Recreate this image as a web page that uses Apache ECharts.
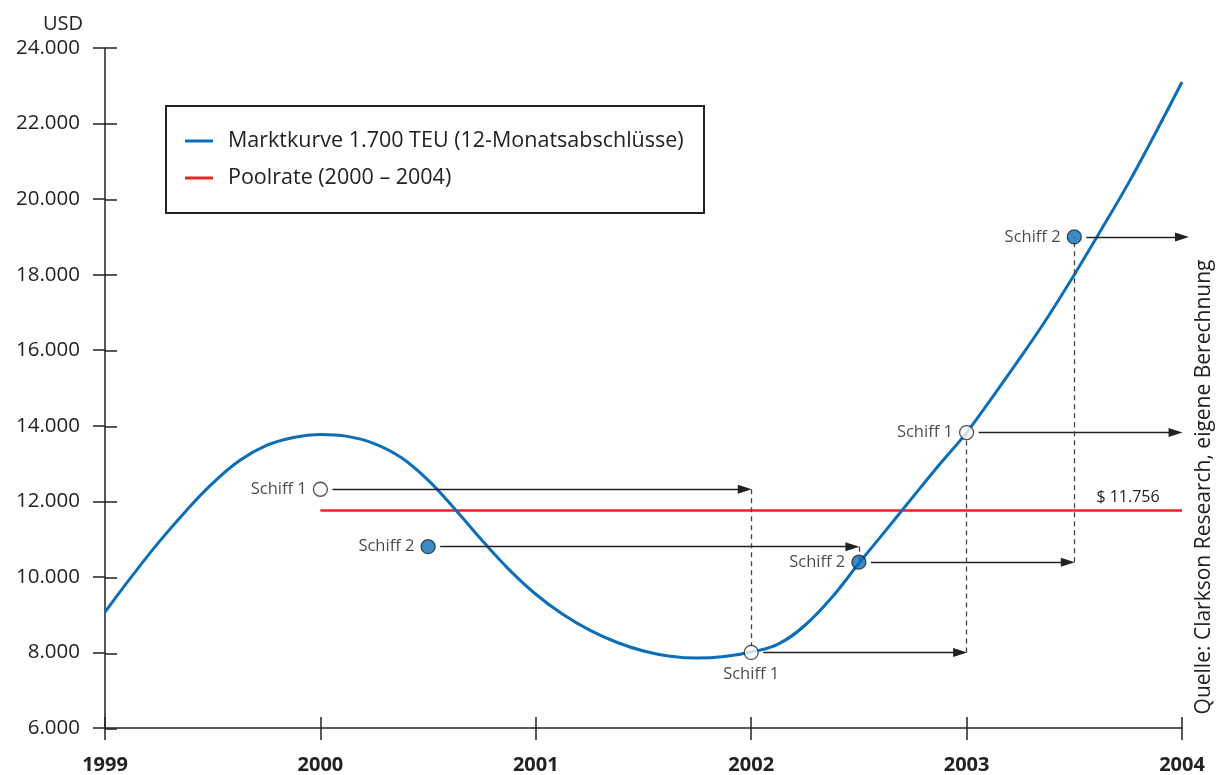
<!DOCTYPE html>
<html>
<head>
<meta charset="utf-8">
<script src="https://cdn.jsdelivr.net/npm/echarts@6/dist/echarts.min.js"></script>
<style>
  html, body { margin: 0; padding: 0; background: #fff; }
  #chart { width: 1218px; height: 775px; }
</style>
</head>
<body>
<div id="chart"></div>
<script>
var marktYears = [1999, 1999.125, 1999.25, 1999.375, 1999.5, 1999.625, 1999.75, 1999.875,
                  2000, 2000.125, 2000.25, 2000.375, 2000.5, 2000.625, 2000.75, 2000.875,
                  2001, 2001.125, 2001.25, 2001.375, 2001.5, 2001.625, 2001.75, 2001.875,
                  2002, 2002.125, 2002.25, 2002.375, 2002.5, 2002.625, 2002.75, 2002.875,
                  2003, 2003.125, 2003.25, 2003.375, 2003.5, 2003.625, 2003.75, 2003.875,
                  2004];
var marktValues = [9070, 10020, 10920, 11740, 12480, 13080, 13480, 13690,
                   13770, 13720, 13530, 13160, 12560, 11790, 10970, 10200,
                   9540, 9010, 8590, 8270, 8040, 7900, 7850, 7890,
                   8010, 8220, 8720, 9460, 10360, 11230, 12110, 12980,
                   13820, 14800, 15810, 16860, 18000, 19190, 20410, 21730,
                   23100];

// Poolrate
var poolYears = [2000, 2004];
var poolValue = 11756;

// Schiffe: Punkt und Pfeilende
var schiff1Years = [2000, 2002, 2003];
var schiff1Values = [12320, 8000, 13820];
var schiff1ArrowEnd = [2002, 2003, 2004];
var schiff2Years = [2000.5, 2002.5, 2003.5];
var schiff2Values = [10800, 10390, 19000];
var schiff2ArrowEnd = [2002.5, 2003.5, 2004.02];

var xTicks = [1999, 2000, 2001, 2002, 2003, 2004];

var dark = '#222';
var font = 'Open Sans';

function pts(xs, ys) {
    var out = [];
    for (var i = 0; i < xs.length; i++) out.push([xs[i], ys[i]]);
    return out;
}

// Pfeile und gestrichelte Verbindungen
// (Pfeilspitze sitzt mittig auf dem Endpunkt, darum etwas kuerzer)
var arrows = [];
var dashes = [];
function addShip(xs, ys, ends) {
    for (var i = 0; i < xs.length; i++) {
        arrows.push([{coord: [xs[i] + 0.056, ys[i]]}, {coord: [Math.min(ends[i], 2004) - 0.03, ys[i]]}]);
        if (i < xs.length - 1) {
            dashes.push([{coord: [ends[i], ys[i]]}, {coord: [ends[i], ys[i + 1]]}]);
        }
    }
}
addShip(schiff1Years, schiff1Values, schiff1ArrowEnd);
addShip(schiff2Years, schiff2Values, schiff2ArrowEnd);
// letzter Pfeil von Schiff 2 reicht etwas ueber 2004 hinaus
arrows[arrows.length - 1][1].coord[0] = 2004;

var s1Data = pts(schiff1Years, schiff1Values).map(function (p, i) {
    var lbl = {show: true, position: 'left', distance: 6};
    if (i === 1) lbl = {show: true, position: 'bottom', distance: 6};
    return {value: p, label: lbl};
});
var s2Data = pts(schiff2Years, schiff2Values).map(function (p) {
    return {value: p, label: {show: true, position: 'left', distance: 6}};
});

var nameBlue = 'Marktkurve 1.700 TEU (12-Monatsabschlüsse)';
var nameRed = 'Poolrate (2000 – 2004)';

var tickStyle = {color: dark, width: 1.5};

var option = {
    animation: false,
    textStyle: {fontFamily: font},
    grid: [
        {left: 105, right: 36, top: 48, bottom: 46, containLabel: false},
        {left: 105, right: 36, top: 48, bottom: 46, containLabel: false}
    ],
    legend: {
        data: [nameBlue, nameRed],
        orient: 'vertical',
        left: 180,
        top: 124,
        itemWidth: 28,
        itemHeight: 3,
        itemGap: 13,
        icon: 'rect',
        textStyle: {fontSize: 21.5, color: dark, lineHeight: 24, fontFamily: font, padding: [0, 0, 0, 10]}
    },
    graphic: [
        {
            type: 'rect',
            shape: {x: 166, y: 106, width: 538, height: 107},
            style: {fill: 'none', stroke: dark, lineWidth: 2}
        },
        {
            type: 'text',
            x: 1204,
            y: 487,
            rotation: Math.PI / 2,
            style: {
                text: 'Quelle: Clarkson Research, eigene Berechnung',
                fontSize: 21,
                fontFamily: font,
                fill: dark,
                align: 'center',
                verticalAlign: 'middle'
            }
        }
    ],
    xAxis: [
        {
            type: 'value',
            gridIndex: 0,
            min: 1999,
            max: 2004,
            interval: 1,
            axisLine: {lineStyle: tickStyle},
            axisTick: {show: true, inside: false, length: 12, lineStyle: tickStyle},
            axisLabel: {
                margin: 27,
                fontSize: 20,
                fontWeight: 'bold',
                color: dark,
                fontFamily: font,
                formatter: function (v) { return xTicks.indexOf(v) >= 0 ? String(v) : ''; }
            },
            splitLine: {show: false}
        },
        {
            type: 'value',
            gridIndex: 1,
            min: 1999,
            max: 2004,
            interval: 1,
            position: 'bottom',
            axisLine: {show: false},
            axisTick: {show: true, inside: true, length: 12, lineStyle: tickStyle},
            axisLabel: {show: false},
            splitLine: {show: false}
        }
    ],
    yAxis: [
        {
            type: 'value',
            gridIndex: 0,
            min: 6000,
            max: 24000,
            interval: 2000,
            name: 'USD',
            nameLocation: 'end',
            nameGap: 14,
            nameTextStyle: {fontSize: 20, color: dark, align: 'right', padding: [0, 22, 0, 0], fontFamily: font},
            axisLine: {show: true, lineStyle: tickStyle},
            axisTick: {show: true, inside: false, length: 12, lineStyle: tickStyle},
            axisLabel: {
                margin: 25,
                fontSize: 20.5,
                color: dark,
                fontFamily: font,
                formatter: function (v) {
                    return String(v).replace(/\B(?=(\d{3})+(?!\d))/g, '.');
                }
            },
            splitLine: {show: false}
        },
        {
            type: 'value',
            gridIndex: 1,
            min: 6000,
            max: 24000,
            interval: 2000,
            position: 'left',
            axisLine: {show: false},
            axisTick: {show: true, inside: true, length: 12, lineStyle: tickStyle},
            axisLabel: {show: false},
            splitLine: {show: false}
        }
    ],
    series: [
        {
            name: nameBlue,
            type: 'line',
            smooth: 0.4,
            showSymbol: false,
            symbol: 'none',
            color: '#0a6fb8',
            lineStyle: {color: '#0a6fb8', width: 3},
            data: pts(marktYears, marktValues),
            z: 3
        },
        {
            name: nameRed,
            type: 'line',
            showSymbol: false,
            symbol: 'none',
            color: '#e8232a',
            lineStyle: {color: '#e8232a', width: 2.5},
            data: pts(poolYears, [poolValue, poolValue]),
            markPoint: {
                silent: true,
                animation: false,
                symbol: 'circle',
                symbolSize: 1,
                itemStyle: {color: 'rgba(0,0,0,0)'},
                label: {
                    show: true,
                    position: 'top',
                    offset: [-54, -1],
                    distance: 4,
                    fontSize: 16,
                    color: dark,
                    fontFamily: font,
                    formatter: function () { return '$ 11.756'; }
                },
                data: [{coord: [poolYears[1], poolValue]}]
            },
            z: 2
        },
        {
            name: 'pfeile',
            type: 'line',
            data: [],
            silent: true,
            markLine: {
                silent: true,
                animation: false,
                symbol: ['none', 'triangle'],
                symbolSize: [9, 14],
                label: {show: false},
                lineStyle: {color: dark, width: 1.3, type: 'solid'},
                data: arrows
            },
            z: 4
        },
        {
            name: 'verbindungen',
            type: 'line',
            data: [],
            silent: true,
            markLine: {
                silent: true,
                animation: false,
                symbol: ['none', 'none'],
                label: {show: false},
                lineStyle: {color: '#444', width: 1.3, type: [5, 4]},
                data: dashes
            },
            z: 1
        },
        {
            name: 'Schiff 1',
            type: 'scatter',
            symbol: 'circle',
            symbolSize: 14,
            itemStyle: {color: '#fff', borderColor: dark, borderWidth: 1.3},
            label: {fontSize: 16.5, color: '#1a1a1a', fontFamily: font, formatter: 'Schiff 1'},
            data: s1Data,
            z: 6
        },
        {
            name: 'Schiff 2',
            type: 'scatter',
            symbol: 'circle',
            symbolSize: 14,
            itemStyle: {color: '#0a6fb8', borderColor: dark, borderWidth: 1.3},
            label: {fontSize: 16.5, color: '#1a1a1a', fontFamily: font, formatter: 'Schiff 2'},
            data: s2Data,
            z: 6
        }
    ]
};

var myChart = echarts.init(document.getElementById('chart'));
myChart.setOption(option);
</script>
</body>
</html>
